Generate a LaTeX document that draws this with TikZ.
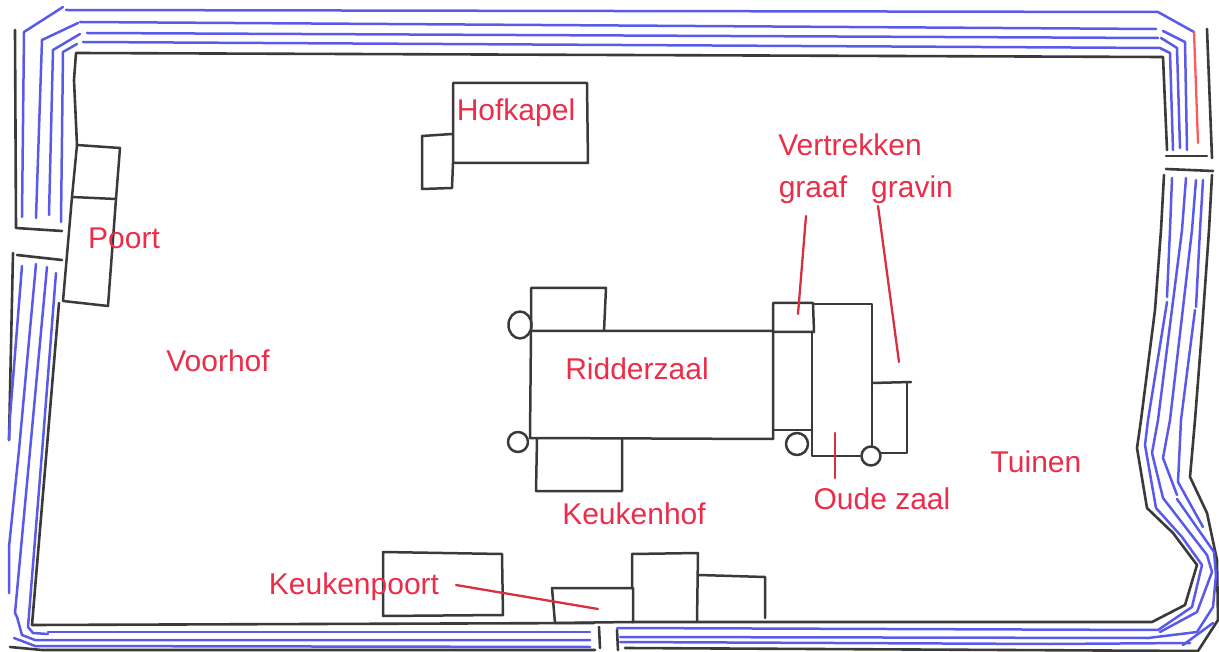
\documentclass[tikz,border=0pt]{standalone}
\usepackage{fontspec}
\setmainfont{Liberation Sans}
\definecolor{wallblack}{HTML}{3A3A3A}
\definecolor{wallblue}{HTML}{5A5AEA}
\definecolor{labelred}{HTML}{EA2E4A}
\definecolor{leaderred}{HTML}{D9303F}
\tikzset{
  wall/.style={draw=wallblack,line width=2.6pt,line join=round,line cap=round},
  moat/.style={draw=wallblue,line width=2.5pt,line join=round,line cap=round},
  building/.style={draw=wallblack,line width=2.5pt,line join=round,line cap=round},
  leader/.style={draw=leaderred,line width=2.3pt,line cap=round},
  lab/.style={text=labelred,font=\fontsize{30}{32}\selectfont,anchor=base,inner sep=0pt,outer sep=0pt}
}
\begin{document}
\begin{tikzpicture}[x=1pt,y=-1pt]
\useasboundingbox (0,0) rectangle (1219,652);
% walls: black
\draw[wall] (15,30) -- (16,228) -- (62,231);
\draw[wall] (77,145) -- (74,80) -- (76,53) -- (1163,57) -- (1167,150);
\draw[wall] (1207,29) -- (1212,158);
\draw[wall] (1166,156) -- (1207,156);
\draw[wall] (1166,169) -- (1213,171);
\draw[wall] (1164,175) -- (1161,230) -- (1155,310) -- (1141,420) -- (1137,448) -- (1147,508) -- (1173,533) -- (1197,565) -- (1185,605) -- (1152,622) -- (632,622);
\draw[wall] (1212,175) -- (1209,230) -- (1202,330) -- (1195,420) -- (1190,477) -- (1207,513) -- (1217,560) -- (1218,620) -- (1198,651) -- (625,648);
\draw[wall] (13,253) -- (9,440);
\draw[wall] (17,255) -- (62,260);
\draw[wall] (59,303) -- (32,625) -- (594,623);
\draw[wall] (10,647) -- (42,650) -- (595,650);
\draw[wall] (599,627) -- (600,648);
\draw[wall] (617,630) -- (618,650);
% moat: top and upper sides
\draw[moat] (22,217) -- (24,32) -- (63,7);
\draw[moat] (66,10) -- (1158,12) -- (1194,32);
\draw[leader,draw=red!65!white] (1194,32) -- (1198,143);
\draw[moat] (36,218) -- (42,40) -- (78,23);
\draw[moat] (80,22) -- (1156,29);
\draw[moat] (1163,31) -- (1185,42) -- (1187,150);
\draw[moat] (49,215) -- (53,50) -- (80,34);
\draw[moat] (87,33) -- (1158,38);
\draw[moat] (1161,38) -- (1177,48) -- (1180,148);
\draw[moat] (61,222) -- (63,52) -- (77,44);
\draw[moat] (83,42) -- (1160,48) -- (1170,53) -- (1173,150);
% moat: left
\draw[moat] (22,266) -- (10,417) -- (9,440);
\draw[moat] (36,264) -- (19,450) -- (9,547) -- (9,593);
\draw[moat] (47,267) -- (31,440) -- (15,613) -- (17,617) -- (22,635) -- (35,640) -- (590,640);
\draw[moat] (56,273) -- (43,440) -- (28,627) -- (33,633) -- (48,634);
\draw[moat] (48,632) -- (590,632);
\draw[moat] (14,638) -- (35,646) -- (590,647);
% moat: right and bottom right
\draw[moat] (1172,178) -- (1170,230) -- (1167,297);
\draw[moat] (1167,302) -- (1148,420) -- (1145,445) -- (1156,508) -- (1182,537) -- (1202,565) -- (1192,607) -- (1158,630) -- (617,628);
\draw[moat] (1186,178) -- (1182,230) -- (1158,420) -- (1152,453) -- (1163,498) -- (1207,555) -- (1212,572) -- (1197,612) -- (1160,632);
\draw[moat] (1196,180) -- (1192,230) -- (1170,420) -- (1163,458) -- (1177,495);
\draw[moat] (1177,499) -- (1214,552) -- (1216,575) -- (1213,607) -- (1197,632) -- (1148,638) -- (620,637);
\draw[moat] (1203,180) -- (1200,230) -- (1196,307);
\draw[moat] (1195,310) -- (1181,420) -- (1178,482) -- (1203,527);
\draw[moat] (620,642) -- (1050,644) -- (1190,643);
\draw[moat] (1183,645) -- (1213,623);
% Poort
\draw[building] (77,145) -- (120,148) -- (116,199) -- (72,197) -- cycle;
\draw[building] (72,197) -- (63,301) -- (108,306) -- (116,199);
% Hofkapel
\draw[building] (453,83) -- (587,83) -- (588,163) -- (453,163) -- cycle;
\draw[building] (452,134) -- (422,136) -- (422,189) -- (452,188) -- (453,163);
% Ridderzaal
\draw[building] (531,331) -- (773,331) -- (773,439) -- (530,438) -- cycle;
\draw[building] (531,331) -- (531,288) -- (606,288) -- (604,331);
\draw[building] (520,325) ellipse [x radius=11.5,y radius=13.5];
\draw[building] (518,442) circle [radius=10];
\draw[building] (537,439) -- (536,491) -- (622,491) -- (622,439);
% Oude zaal and rooms
\draw[building] (773,303) -- (813,303) -- (814,332) -- (773,332) -- cycle;
\draw[building] (773,332) -- (773,430) -- (812,430) -- (812,332);
\draw[building] (813,304) -- (872,304) -- (872,447);
\draw[building] (812,430) -- (812,456) -- (860,456);
\draw[building] (797,444) circle [radius=11];
\draw[building] (871,456) circle [radius=9.5];
\draw[building] (872,383) -- (911,382);
\draw[building] (907,383) -- (907,453) -- (881,453);
% bottom buildings
\draw[building] (383,552) -- (502,554) -- (503,615) -- (383,616) -- cycle;
\draw[building] (552,588) -- (633,588) -- (633,622) -- (555,623) -- cycle;
\draw[building] (632,588) -- (632,554) -- (698,553) -- (697,622);
\draw[building] (699,575) -- (765,577) -- (765,618);
% labels
\node[lab] (hofkapel) at (516,121) {Hofkapel};
\node[lab] (poort) at (124,249) {Poort};
\node[lab] (voorhof) at (218,372) {Voorhof};
\node[lab] (ridderzaal) at (637,380) {Ridderzaal};
\node[lab] (keukenhof) at (634,524) {Keukenhof};
\node[lab] (keukenpoort) at (354,594) {Keukenpoort};
\node[lab] (vertrekken) at (850,156) {Vertrekken};
\node[lab] (graaf) at (813,198) {graaf};
\node[lab] (gravin) at (912,198) {gravin};
\node[lab] (tuinen) at (1036,472) {Tuinen};
\node[lab] (oudezaal) at (882,509) {Oude zaal};
% leaders
\coordinate (kpStart) at (456,585);
\coordinate (kpEnd) at (598,609);
\coordinate (grStart) at (806,216);
\coordinate (grEnd) at (798,314);
\coordinate (gvStart) at (878,206);
\coordinate (gvEnd) at (899,362);
\coordinate (ozStart) at (835,433);
\coordinate (ozEnd) at (835,478);
\draw[leader] (kpStart) -- (kpEnd);
\draw[leader] (grStart) -- (grEnd);
\draw[leader] (gvStart) -- (gvEnd);
\draw[leader] (ozStart) -- (ozEnd);
\end{tikzpicture}
\end{document}
